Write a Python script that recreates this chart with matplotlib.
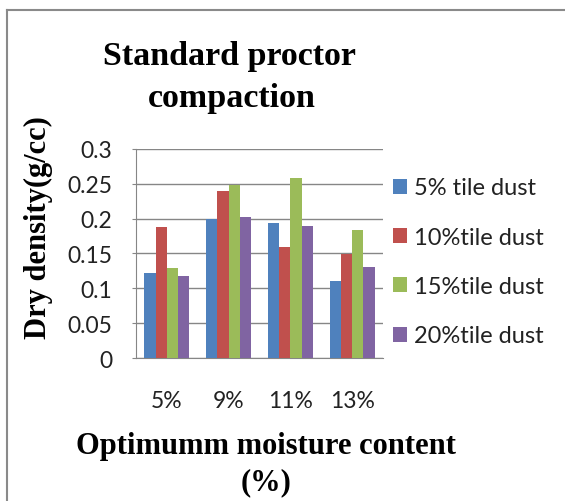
import numpy as np
import matplotlib
matplotlib.use("Agg")
import matplotlib.pyplot as plt
from matplotlib.patches import Patch
from matplotlib.lines import Line2D

# Chart data
categories = ["5%", "9%", "11%", "13%"]
series_names = ["5% tile dust", "10%tile dust", "15%tile dust", "20%tile dust"]
dust_5 = [0.122, 0.200, 0.194, 0.111]
dust_10 = [0.188, 0.239, 0.160, 0.150]
dust_15 = [0.129, 0.249, 0.258, 0.184]
dust_20 = [0.118, 0.203, 0.190, 0.131]
colors = ["#4F81BD", "#C0504D", "#9BBB59", "#8064A2"]

series = [dust_5, dust_10, dust_15, dust_20]

sans = "Lato"
serif = "Liberation Serif"

fig = plt.figure(figsize=(5.65, 5.02), dpi=100)
W, H = 565, 502

# plot area in pixels: left 136, right 383, top 150, bottom 359
ax = fig.add_axes([136 / W, 1 - 359 / H, 247 / W, 209 / H])

x = np.arange(len(categories))
bar_w = 1 / 5.5
for i, vals in enumerate(series):
    ax.bar(x + (i - 1.5) * bar_w, vals, width=bar_w, color=colors[i], zorder=3)

ax.set_xlim(-0.5, len(categories) - 0.5)
ax.set_ylim(0, 0.3)
ax.set_yticks(np.arange(0, 0.31, 0.05))
ax.set_yticklabels(["0", "0.05", "0.1", "0.15", "0.2", "0.25", "0.3"], fontsize=16.5, family=sans,
                   color="#222222")
ax.set_xticks(x)
ax.set_xticklabels(categories, fontsize=16.5, family=sans, color="#222222")
ax.tick_params(axis="x", length=0, pad=23)
ax.tick_params(axis="y", length=3, pad=14, color="#868686")
ax.grid(axis="y", color="#868686", linewidth=1, zorder=0)
for s in ["top", "right"]:
    ax.spines[s].set_visible(False)
ax.spines["left"].set_color("#868686")
ax.spines["bottom"].set_color("#868686")

# titles
fig.text(229 / W, 1 - 57 / H, "Standard proctor", ha="center", va="center",
         fontsize=24.5, fontweight="bold", family=serif)
fig.text(232 / W, 1 - 99 / H, "compaction", ha="center", va="center",
         fontsize=24.5, fontweight="bold", family=serif)
fig.text(38 / W, 1 - 228 / H, "Dry density(g/cc)", ha="center", va="center", rotation=90,
         fontsize=22, fontweight="bold", family=serif)
fig.text(266 / W, 1 - 447 / H, "Optimumm moisture content", ha="center", va="center",
         fontsize=22, fontweight="bold", family=serif)
fig.text(266 / W, 1 - 483 / H, "(%)", ha="center", va="center",
         fontsize=22, fontweight="bold", family=serif)

# legend
handles = [Patch(facecolor=c) for c in colors]
fig.legend(handles, series_names, loc="center left", bbox_to_anchor=(393 / W, 1 - 263 / H),
           frameon=False, prop={"family": sans, "size": 17}, handlelength=0.6,
           handleheight=0.6, handletextpad=0.3, labelspacing=1.2,
           borderaxespad=0, borderpad=0, labelcolor="#222222")

# outer chart border
fig.add_artist(Line2D([7 / W, 7 / W], [0, 1 - 11 / H], color="#8a8a8a", linewidth=1.5))
fig.add_artist(Line2D([7 / W, 1], [1 - 11 / H, 1 - 11 / H], color="#8a8a8a", linewidth=1.5))

plt.savefig("out.png", dpi=100)
